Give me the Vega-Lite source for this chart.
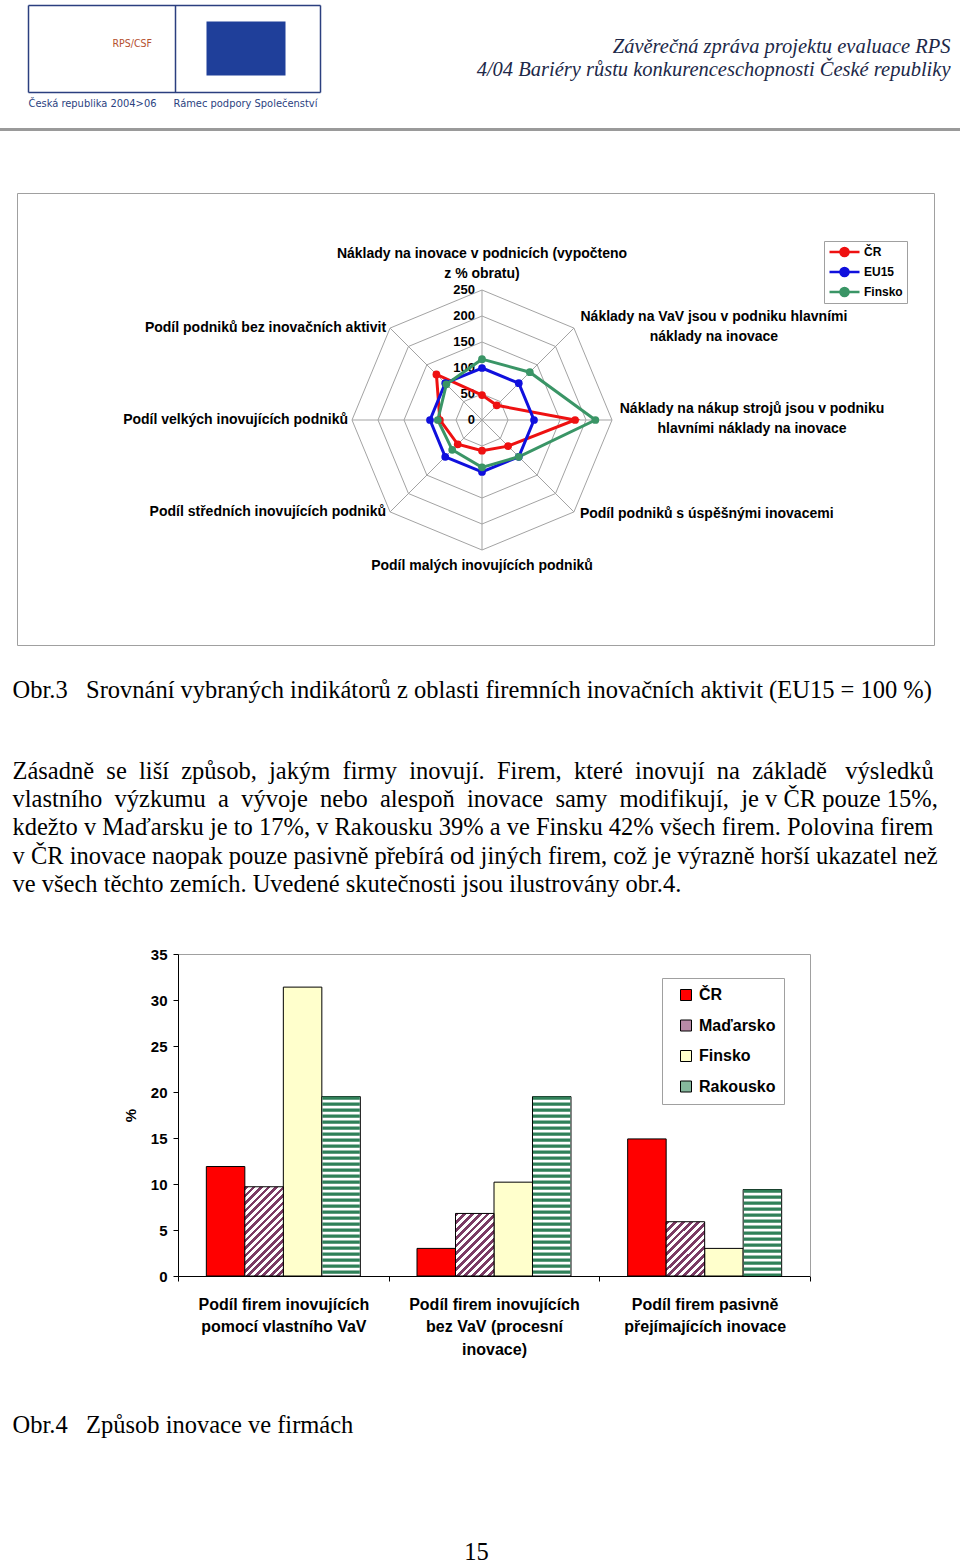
{
  "$schema": "https://vega.github.io/schema/vega-lite/v6.json",
  "padding": 0,
  "background": "white",
  "bounds": "flush",
  "spacing": 0,
  "config": {
    "view": {"stroke": null},
    "axis": {"titleLimit": 3000}
  },
  "datasets": {
    "axes": [
      {"k": 0, "label": "Náklady na inovace v podnicích (vypočteno\nz % obratu)"},
      {"k": 1, "label": "Náklady na VaV jsou v podniku hlavními\nnáklady na inovace"},
      {"k": 2, "label": "Náklady na nákup strojů jsou v podniku\nhlavními náklady na inovace"},
      {"k": 3, "label": "Podíl podniků s úspěšnými inovacemi"},
      {"k": 4, "label": "Podíl malých inovujících podniků"},
      {"k": 5, "label": "Podíl středních inovujících podniků"},
      {"k": 6, "label": "Podíl velkých inovujících podniků"},
      {"k": 7, "label": "Podíl podniků bez inovačních aktivit"}
    ],
    "rings": [
      {"level": 50, "k": [0, 1, 2, 3, 4, 5, 6, 7]},
      {"level": 100, "k": [0, 1, 2, 3, 4, 5, 6, 7]},
      {"level": 150, "k": [0, 1, 2, 3, 4, 5, 6, 7]},
      {"level": 200, "k": [0, 1, 2, 3, 4, 5, 6, 7]},
      {"level": 250, "k": [0, 1, 2, 3, 4, 5, 6, 7]}
    ],
    "levels": [{"level": 0}, {"level": 50}, {"level": 100}, {"level": 150}, {"level": 200}, {"level": 250}],
    "radar": [
      {"series": "ČR", "k": 0, "value": 48},
      {"series": "ČR", "k": 1, "value": 40},
      {"series": "ČR", "k": 2, "value": 179},
      {"series": "ČR", "k": 3, "value": 71},
      {"series": "ČR", "k": 4, "value": 59},
      {"series": "ČR", "k": 5, "value": 66},
      {"series": "ČR", "k": 6, "value": 81},
      {"series": "ČR", "k": 7, "value": 124},
      {"series": "EU15", "k": 0, "value": 100},
      {"series": "EU15", "k": 1, "value": 100},
      {"series": "EU15", "k": 2, "value": 100},
      {"series": "EU15", "k": 3, "value": 100},
      {"series": "EU15", "k": 4, "value": 100},
      {"series": "EU15", "k": 5, "value": 100},
      {"series": "EU15", "k": 6, "value": 100},
      {"series": "EU15", "k": 7, "value": 100},
      {"series": "Finsko", "k": 0, "value": 117},
      {"series": "Finsko", "k": 1, "value": 130},
      {"series": "Finsko", "k": 2, "value": 218},
      {"series": "Finsko", "k": 3, "value": 100},
      {"series": "Finsko", "k": 4, "value": 91},
      {"series": "Finsko", "k": 5, "value": 81},
      {"series": "Finsko", "k": 6, "value": 85},
      {"series": "Finsko", "k": 7, "value": 97}
    ],
    "bars": [
      {"g": 1, "group": "Podíl firem inovujících\npomocí vlastního VaV", "country": "ČR", "value": 11.9},
      {"g": 1, "group": "Podíl firem inovujících\npomocí vlastního VaV", "country": "Maďarsko", "value": 9.7},
      {"g": 1, "group": "Podíl firem inovujících\npomocí vlastního VaV", "country": "Finsko", "value": 31.4},
      {"g": 1, "group": "Podíl firem inovujících\npomocí vlastního VaV", "country": "Rakousko", "value": 19.5},
      {"g": 2, "group": "Podíl firem inovujících\nbez VaV (procesní\ninovace)", "country": "ČR", "value": 3.0},
      {"g": 2, "group": "Podíl firem inovujících\nbez VaV (procesní\ninovace)", "country": "Maďarsko", "value": 6.8},
      {"g": 2, "group": "Podíl firem inovujících\nbez VaV (procesní\ninovace)", "country": "Finsko", "value": 10.2},
      {"g": 2, "group": "Podíl firem inovujících\nbez VaV (procesní\ninovace)", "country": "Rakousko", "value": 19.5},
      {"g": 3, "group": "Podíl firem pasivně\npřejímajících inovace", "country": "ČR", "value": 14.9},
      {"g": 3, "group": "Podíl firem pasivně\npřejímajících inovace", "country": "Maďarsko", "value": 5.9},
      {"g": 3, "group": "Podíl firem pasivně\npřejímajících inovace", "country": "Finsko", "value": 3.0},
      {"g": 3, "group": "Podíl firem pasivně\npřejímajících inovace", "country": "Rakousko", "value": 9.4}
    ]
  },
  "vconcat": [
    {
      "width": 960,
      "height": 128,
      "resolve": {"scale": {"x": "independent", "y": "independent"}, "axis": {"x": "independent", "y": "independent"}},
      "layer": [
        {
          "data": {"values": []},
          "mark": "point",
          "encoding": {
            "x": {
              "field": "a", "type": "quantitative",
              "scale": {"domain": [28, 320], "range": [28, 320], "nice": false, "zero": false},
              "axis": {
                "orient": "top",
                "values": [28, 175, 320], "grid": true, "gridColor": "#2b3f7f", "gridWidth": 1.5,
                "domain": false, "ticks": false, "labels": false,
                "title": ["Závěrečná zpráva projektu evaluace RPS", "4/04 Bariéry růstu konkurenceschopnosti České republiky"],
                "titleX": 950, "titleY": 46, "titleAlign": "right", "titleBaseline": "middle", "titleAngle": 0,
                "titleLineHeight": 23, "titleFont": "Liberation Serif", "titleFontStyle": "italic", "titleFontWeight": "normal",
                "titleFontSize": 20.5, "titleColor": "#202848"
              }
            },
            "y": {
              "field": "b", "type": "quantitative",
              "scale": {"domain": [5, 92], "range": [5, 92], "nice": false, "zero": false},
              "axis": {
                "values": [5, 92], "grid": true, "gridColor": "#2b3f7f", "gridWidth": 1.5,
                "domain": false, "ticks": false, "labels": false,
                "title": "Česká republika 2004>06",
                "titleX": 28, "titleY": 103, "titleAlign": "left", "titleBaseline": "middle", "titleAngle": 0,
                "titleFont": "DejaVu Sans Condensed", "titleFontSize": 11, "titleFontWeight": "normal", "titleColor": "#2b3f7f"
              }
            }
          }
        },
        {
          "data": {"values": []},
          "mark": "point",
          "encoding": {
            "x": {
              "field": "a", "type": "quantitative",
              "scale": {"domain": [0, 1], "range": [206, 285], "nice": false, "zero": false},
              "axis": {
                "orient": "top", "offset": -48, "domain": true, "domainColor": "#1f3f9a", "domainWidth": 54, "domainCap": "butt",
                "ticks": false, "labels": false, "grid": false,
                "title": "RPS/CSF", "titleX": 112, "titleY": -5, "titleAlign": "left", "titleBaseline": "middle", "titleAngle": 0,
                "titleFont": "DejaVu Sans Condensed", "titleFontSize": 10.5, "titleFontWeight": "normal", "titleColor": "#b5502f"
              }
            },
            "y": {
              "field": "b", "type": "quantitative",
              "scale": {"domain": [0, 1], "nice": false, "zero": false},
              "axis": {
                "orient": "left", "domain": false, "ticks": false, "labels": false, "grid": false,
                "title": "Rámec podpory Společenství",
                "titleX": 173, "titleY": 103, "titleAlign": "left", "titleBaseline": "middle", "titleAngle": 0,
                "titleFont": "DejaVu Sans Condensed", "titleFontSize": 11, "titleFontWeight": "normal", "titleColor": "#2b3f7f"
              }
            }
          }
        }
      ]
    },
    {
      "width": 960,
      "height": 3,
      "data": {"values": []},
      "mark": "point",
      "encoding": {},
      "view": {"fill": "#9a9a9a", "stroke": null}
    },
    {
      "width": 960,
      "height": 823,
      "resolve": {"axis": {"x": "independent", "y": "independent"}},
      "layer": [
        {
          "data": {"name": "rings"},
          "transform": [
            {"flatten": ["k"]},
            {"calculate": "datum.level * sin(datum.k * PI / 4)", "as": "x"},
            {"calculate": "datum.level * cos(datum.k * PI / 4)", "as": "y"}
          ],
          "mark": {"type": "line", "interpolate": "linear-closed", "stroke": "#a3a3a3", "strokeWidth": 1},
          "encoding": {
            "x": {
              "field": "x", "type": "quantitative",
              "scale": {"domain": [-894.23, 869.23], "range": [17, 934], "nice": false, "zero": false},
              "axis": {
                "orient": "top",
                "values": [-894.23, 869.23], "grid": true, "gridColor": "#a0a0a0", "gridWidth": 1,
                "domain": false, "ticks": false, "labels": false,
                "title": "Obr.3\u00a0\u00a0 Srovnání vybraných indikátorů z oblasti firemních inovačních aktivit (EU15 = 100 %)",
                "titleX": 12, "titleY": 559, "titleAlign": "left", "titleBaseline": "middle", "titleAngle": 0,
                "titleFont": "Liberation Serif", "titleFontSize": 24.5, "titleFontWeight": "normal", "titleColor": "#000000"
              }
            },
            "y": {
              "field": "y", "type": "quantitative",
              "scale": {"domain": [-432.69, 436.54], "range": [514, 62], "nice": false, "zero": false},
              "axis": {
                "orient": "left",
                "values": [-432.69, 436.54], "grid": true, "gridColor": "#a0a0a0", "gridWidth": 1,
                "domain": false, "ticks": false, "labels": false,
                "title": [
                  "Zásadně\u00a0 se\u00a0 liší\u00a0 způsob,\u00a0 jakým\u00a0 firmy\u00a0 inovují.\u00a0 Firem,\u00a0 které\u00a0 inovují\u00a0 na\u00a0 základě\u00a0\u00a0 výsledků",
                  "vlastního\u00a0 výzkumu\u00a0 a\u00a0 vývoje\u00a0 nebo\u00a0 alespoň\u00a0 inovace\u00a0 samy\u00a0 modifikují,\u00a0 je v ČR pouze 15%,",
                  "kdežto v Maďarsku je to 17%, v Rakousku 39% a ve Finsku 42% všech firem. Polovina firem",
                  "v ČR inovace naopak pouze pasivně přebírá od jiných firem, což je výrazně horší ukazatel než",
                  "ve všech těchto zemích. Uvedené skutečnosti jsou ilustrovány obr.4."
                ],
                "titleX": 12, "titleY": 640, "titleAlign": "left", "titleBaseline": "middle", "titleAngle": 0,
                "titleLineHeight": 28.4, "titleFont": "Liberation Serif", "titleFontSize": 24.5, "titleFontWeight": "normal", "titleColor": "#000000"
              }
            },
            "detail": {"field": "level", "type": "nominal"},
            "order": {"field": "k", "type": "quantitative"}
          }
        },
        {
          "data": {"name": "axes"},
          "transform": [
            {"calculate": "250 * sin(datum.k * PI / 4)", "as": "ex"},
            {"calculate": "250 * cos(datum.k * PI / 4)", "as": "ey"}
          ],
          "mark": {"type": "rule", "stroke": "#a3a3a3", "strokeWidth": 1},
          "encoding": {
            "x": {"field": "ex", "type": "quantitative", "scale": {"domain": [-894.23, 869.23], "range": [17, 934], "nice": false, "zero": false}, "axis": null},
            "y": {"field": "ey", "type": "quantitative", "scale": {"domain": [-432.69, 436.54], "range": [514, 62], "nice": false, "zero": false}, "axis": null},
            "x2": {"datum": 0},
            "y2": {"datum": 0}
          }
        },
        {
          "data": {"name": "levels"},
          "transform": [{"calculate": "0", "as": "cx"}],
          "mark": {"type": "text", "align": "right", "baseline": "middle", "dx": -7, "font": "Liberation Sans", "fontSize": 13, "fontWeight": "bold", "color": "#000000"},
          "encoding": {
            "x": {"field": "cx", "type": "quantitative", "scale": {"domain": [-894.23, 869.23], "range": [17, 934], "nice": false, "zero": false}, "axis": null},
            "y": {"field": "level", "type": "quantitative", "scale": {"domain": [-432.69, 436.54], "range": [514, 62], "nice": false, "zero": false}, "axis": null},
            "text": {"field": "level", "type": "quantitative"}
          }
        },
        {
          "data": {"name": "radar"},
          "transform": [
            {"calculate": "datum.value * sin(datum.k * PI / 4)", "as": "x"},
            {"calculate": "datum.value * cos(datum.k * PI / 4)", "as": "y"}
          ],
          "mark": {"type": "line", "interpolate": "linear-closed", "strokeWidth": 3},
          "encoding": {
            "x": {"field": "x", "type": "quantitative", "scale": {"domain": [-894.23, 869.23], "range": [17, 934], "nice": false, "zero": false}, "axis": null},
            "y": {"field": "y", "type": "quantitative", "scale": {"domain": [-432.69, 436.54], "range": [514, 62], "nice": false, "zero": false}, "axis": null},
            "stroke": {
              "field": "series", "type": "nominal",
              "scale": {"domain": ["ČR", "EU15", "Finsko"], "range": ["#ee1111", "#1010dd", "#3a9566"]},
              "legend": {
                "orient": "none", "legendX": 824, "legendY": 241, "title": null, "direction": "vertical",
                "symbolType": "M-1,0L1,0M-0.27,0A0.27,0.27 0 1,0 0.27,0A0.27,0.27 0 1,0 -0.27,0",
                "symbolSize": 900, "symbolStrokeWidth": 2.5,
                "labelFont": "Liberation Sans", "labelFontSize": 12, "labelFontWeight": "bold", "labelColor": "#000000", "labelOffset": 3,
                "padding": 4, "rowPadding": 6, "clipHeight": 14, "strokeColor": "#a0a0a0", "fillColor": "#ffffff"
              }
            },
            "order": {"field": "k", "type": "quantitative"}
          }
        },
        {
          "data": {"name": "radar"},
          "transform": [
            {"calculate": "datum.value * sin(datum.k * PI / 4)", "as": "x"},
            {"calculate": "datum.value * cos(datum.k * PI / 4)", "as": "y"}
          ],
          "mark": {"type": "circle", "size": 60, "opacity": 1},
          "encoding": {
            "x": {"field": "x", "type": "quantitative", "scale": {"domain": [-894.23, 869.23], "range": [17, 934], "nice": false, "zero": false}, "axis": null},
            "y": {"field": "y", "type": "quantitative", "scale": {"domain": [-432.69, 436.54], "range": [514, 62], "nice": false, "zero": false}, "axis": null},
            "color": {
              "field": "series", "type": "nominal",
              "scale": {"domain": ["ČR", "EU15", "Finsko"], "range": ["#ee1111", "#1010dd", "#3a9566"]},
              "legend": {
                "orient": "none", "legendX": 824, "legendY": 241, "title": null, "direction": "vertical",
                "symbolType": "M-1,0L1,0M-0.27,0A0.27,0.27 0 1,0 0.27,0A0.27,0.27 0 1,0 -0.27,0",
                "symbolSize": 900, "symbolStrokeWidth": 2.5,
                "labelFont": "Liberation Sans", "labelFontSize": 12, "labelFontWeight": "bold", "labelColor": "#000000", "labelOffset": 3,
                "padding": 4, "rowPadding": 6, "clipHeight": 14, "strokeColor": "#a0a0a0", "fillColor": "#ffffff"
              }
            }
          }
        },
        {
          "data": {"name": "axes"},
          "transform": [
            {"filter": "datum.k === 0"},
            {"calculate": "250 * sin(datum.k * PI / 4)", "as": "lx"},
            {"calculate": "250 * cos(datum.k * PI / 4)", "as": "ly"}
          ],
          "mark": {"type": "text", "align": "center", "baseline": "middle", "dy": -36, "lineBreak": "\n", "lineHeight": 20, "font": "Liberation Sans", "fontSize": 14, "fontWeight": "bold", "color": "#000000"},
          "encoding": {
            "x": {"field": "lx", "type": "quantitative", "scale": {"domain": [-894.23, 869.23], "range": [17, 934], "nice": false, "zero": false}, "axis": null},
            "y": {"field": "ly", "type": "quantitative", "scale": {"domain": [-432.69, 436.54], "range": [514, 62], "nice": false, "zero": false}, "axis": null},
            "text": {"field": "label", "type": "nominal"}
          }
        },
        {
          "data": {"name": "axes"},
          "transform": [
            {"filter": "datum.k === 1 || datum.k === 2"},
            {"calculate": "250 * sin(datum.k * PI / 4)", "as": "lx"},
            {"calculate": "250 * cos(datum.k * PI / 4)", "as": "ly"}
          ],
          "mark": {"type": "text", "align": "center", "baseline": "middle", "dx": 140, "dy": -11, "lineBreak": "\n", "lineHeight": 20, "font": "Liberation Sans", "fontSize": 14, "fontWeight": "bold", "color": "#000000"},
          "encoding": {
            "x": {"field": "lx", "type": "quantitative", "scale": {"domain": [-894.23, 869.23], "range": [17, 934], "nice": false, "zero": false}, "axis": null},
            "y": {"field": "ly", "type": "quantitative", "scale": {"domain": [-432.69, 436.54], "range": [514, 62], "nice": false, "zero": false}, "axis": null},
            "text": {"field": "label", "type": "nominal"}
          }
        },
        {
          "data": {"name": "axes"},
          "transform": [
            {"filter": "datum.k === 3"},
            {"calculate": "250 * sin(datum.k * PI / 4)", "as": "lx"},
            {"calculate": "250 * cos(datum.k * PI / 4)", "as": "ly"}
          ],
          "mark": {"type": "text", "align": "left", "baseline": "middle", "dx": 6, "dy": 2, "font": "Liberation Sans", "fontSize": 14, "fontWeight": "bold", "color": "#000000"},
          "encoding": {
            "x": {"field": "lx", "type": "quantitative", "scale": {"domain": [-894.23, 869.23], "range": [17, 934], "nice": false, "zero": false}, "axis": null},
            "y": {"field": "ly", "type": "quantitative", "scale": {"domain": [-432.69, 436.54], "range": [514, 62], "nice": false, "zero": false}, "axis": null},
            "text": {"field": "label", "type": "nominal"}
          }
        },
        {
          "data": {"name": "axes"},
          "transform": [
            {"filter": "datum.k === 4"},
            {"calculate": "250 * sin(datum.k * PI / 4)", "as": "lx"},
            {"calculate": "250 * cos(datum.k * PI / 4)", "as": "ly"}
          ],
          "mark": {"type": "text", "align": "center", "baseline": "middle", "dy": 16, "font": "Liberation Sans", "fontSize": 14, "fontWeight": "bold", "color": "#000000"},
          "encoding": {
            "x": {"field": "lx", "type": "quantitative", "scale": {"domain": [-894.23, 869.23], "range": [17, 934], "nice": false, "zero": false}, "axis": null},
            "y": {"field": "ly", "type": "quantitative", "scale": {"domain": [-432.69, 436.54], "range": [514, 62], "nice": false, "zero": false}, "axis": null},
            "text": {"field": "label", "type": "nominal"}
          }
        },
        {
          "data": {"name": "axes"},
          "transform": [
            {"filter": "datum.k >= 5"},
            {"calculate": "250 * sin(datum.k * PI / 4)", "as": "lx"},
            {"calculate": "250 * cos(datum.k * PI / 4)", "as": "ly"}
          ],
          "mark": {"type": "text", "align": "right", "baseline": "middle", "dx": -4, "dy": 0, "font": "Liberation Sans", "fontSize": 14, "fontWeight": "bold", "color": "#000000"},
          "encoding": {
            "x": {"field": "lx", "type": "quantitative", "scale": {"domain": [-894.23, 869.23], "range": [17, 934], "nice": false, "zero": false}, "axis": null},
            "y": {"field": "ly", "type": "quantitative", "scale": {"domain": [-432.69, 436.54], "range": [514, 62], "nice": false, "zero": false}, "axis": null},
            "text": {"field": "label", "type": "nominal"}
          }
        }
      ]
    },
    {
      "width": 960,
      "height": 322,
      "data": {"name": "bars"},
      "resolve": {"axis": {"x": "independent", "y": "independent"}},
      "layer": [
        {
          "transform": [{"filter": "datum.country === 'ČR' || datum.country === 'Finsko'"}],
          "mark": {"type": "bar", "stroke": "#000000", "strokeWidth": 1},
          "encoding": {
            "x": {
              "field": "group", "type": "nominal",
              "scale": {"domain": ["Podíl firem inovujících\npomocí vlastního VaV", "Podíl firem inovujících\nbez VaV (procesní\ninovace)", "Podíl firem pasivně\npřejímajících inovace"], "range": [178, 810], "paddingInner": 0, "paddingOuter": 0},
              "axis": {
                "orient": "bottom", "domain": true, "domainColor": "#000000", "domainWidth": 1,
                "ticks": true, "tickColor": "#000000", "tickSize": 5, "tickBand": "extent",
                "labelAngle": 0, "labelAlign": "center", "labelFont": "Liberation Sans", "labelFontSize": 16, "labelFontWeight": "bold",
                "labelColor": "#000000", "labelLineHeight": 22.5, "labelPadding": 15, "labelLimit": 400,
                "labelExpr": "split(datum.label, '\\n')", "grid": false,
                "title": "Obr.4\u00a0\u00a0 Způsob inovace ve firmách",
                "titleX": 12, "titleY": 149, "titleAlign": "left", "titleBaseline": "middle", "titleAngle": 0,
                "titleFont": "Liberation Serif", "titleFontSize": 24.5, "titleFontWeight": "normal", "titleColor": "#000000"
              }
            },
            "xOffset": {"field": "country", "type": "nominal", "scale": {"domain": ["ČR", "Maďarsko", "Finsko", "Rakousko"], "paddingInner": 0, "paddingOuter": 0.736}},
            "y": {
              "field": "value", "type": "quantitative",
              "scale": {"domain": [0, 35], "nice": false},
              "axis": {
                "orient": "left", "offset": -178, "values": [0, 5, 10, 15, 20, 25, 30, 35],
                "domain": true, "domainColor": "#000000", "ticks": true, "tickColor": "#000000", "tickSize": 5,
                "labelFont": "Liberation Sans", "labelFontSize": 15, "labelFontWeight": "bold", "labelColor": "#000000", "labelPadding": 6,
                "grid": true, "gridColor": "#a0a0a0", "gridWidth": 1,
                "gridOpacity": {"condition": {"test": "datum.value === 35", "value": 1}, "value": 0},
                "title": "%", "titleFont": "Liberation Sans", "titleFontSize": 15, "titleFontWeight": "bold", "titleColor": "#000000", "titlePadding": 12
              }
            },
            "fill": {
              "field": "country", "type": "nominal",
              "scale": {"domain": ["ČR", "Maďarsko", "Finsko", "Rakousko"], "range": ["#ff0000", "#b98aa6", "#ffffcc", "#86b89d"]},
              "legend": {
                "orient": "none", "legendX": 662, "legendY": 978, "title": null, "direction": "vertical",
                "symbolType": "square", "symbolSize": 121, "symbolStrokeColor": "#000000", "symbolStrokeWidth": 1, "symbolOffset": 8,
                "labelFont": "Liberation Sans", "labelFontSize": 16, "labelFontWeight": "bold", "labelColor": "#000000", "labelOffset": 5,
                "padding": 8, "rowPadding": 12.5, "clipHeight": 18, "strokeColor": "#a0a0a0", "fillColor": "#ffffff"
              }
            }
          }
        },
        {
          "transform": [{"filter": "datum.country === 'Maďarsko' && datum.g === 1"}],
          "mark": {"type": "bar", "stroke": "#000000", "strokeWidth": 1, "fill": {"gradient": "linear", "x1": 0, "y1": 0, "x2": 0.5207, "y2": 1.2068, "stops": [
            {"offset": 0, "color": "#7b3b64"}, {"offset": 0.02941, "color": "#7b3b64"}, {"offset": 0.02941, "color": "#ffffff"}, {"offset": 0.05882, "color": "#ffffff"},
            {"offset": 0.05882, "color": "#7b3b64"}, {"offset": 0.08824, "color": "#7b3b64"}, {"offset": 0.08824, "color": "#ffffff"}, {"offset": 0.11765, "color": "#ffffff"},
            {"offset": 0.11765, "color": "#7b3b64"}, {"offset": 0.14706, "color": "#7b3b64"}, {"offset": 0.14706, "color": "#ffffff"}, {"offset": 0.17647, "color": "#ffffff"},
            {"offset": 0.17647, "color": "#7b3b64"}, {"offset": 0.20588, "color": "#7b3b64"}, {"offset": 0.20588, "color": "#ffffff"}, {"offset": 0.23529, "color": "#ffffff"},
            {"offset": 0.23529, "color": "#7b3b64"}, {"offset": 0.26471, "color": "#7b3b64"}, {"offset": 0.26471, "color": "#ffffff"}, {"offset": 0.29412, "color": "#ffffff"},
            {"offset": 0.29412, "color": "#7b3b64"}, {"offset": 0.32353, "color": "#7b3b64"}, {"offset": 0.32353, "color": "#ffffff"}, {"offset": 0.35294, "color": "#ffffff"},
            {"offset": 0.35294, "color": "#7b3b64"}, {"offset": 0.38235, "color": "#7b3b64"}, {"offset": 0.38235, "color": "#ffffff"}, {"offset": 0.41176, "color": "#ffffff"},
            {"offset": 0.41176, "color": "#7b3b64"}, {"offset": 0.44118, "color": "#7b3b64"}, {"offset": 0.44118, "color": "#ffffff"}, {"offset": 0.47059, "color": "#ffffff"},
            {"offset": 0.47059, "color": "#7b3b64"}, {"offset": 0.5, "color": "#7b3b64"}, {"offset": 0.5, "color": "#ffffff"}, {"offset": 0.52941, "color": "#ffffff"},
            {"offset": 0.52941, "color": "#7b3b64"}, {"offset": 0.55882, "color": "#7b3b64"}, {"offset": 0.55882, "color": "#ffffff"}, {"offset": 0.58824, "color": "#ffffff"},
            {"offset": 0.58824, "color": "#7b3b64"}, {"offset": 0.61765, "color": "#7b3b64"}, {"offset": 0.61765, "color": "#ffffff"}, {"offset": 0.64706, "color": "#ffffff"},
            {"offset": 0.64706, "color": "#7b3b64"}, {"offset": 0.67647, "color": "#7b3b64"}, {"offset": 0.67647, "color": "#ffffff"}, {"offset": 0.70588, "color": "#ffffff"},
            {"offset": 0.70588, "color": "#7b3b64"}, {"offset": 0.73529, "color": "#7b3b64"}, {"offset": 0.73529, "color": "#ffffff"}, {"offset": 0.76471, "color": "#ffffff"},
            {"offset": 0.76471, "color": "#7b3b64"}, {"offset": 0.79412, "color": "#7b3b64"}, {"offset": 0.79412, "color": "#ffffff"}, {"offset": 0.82353, "color": "#ffffff"},
            {"offset": 0.82353, "color": "#7b3b64"}, {"offset": 0.85294, "color": "#7b3b64"}, {"offset": 0.85294, "color": "#ffffff"}, {"offset": 0.88235, "color": "#ffffff"},
            {"offset": 0.88235, "color": "#7b3b64"}, {"offset": 0.91176, "color": "#7b3b64"}, {"offset": 0.91176, "color": "#ffffff"}, {"offset": 0.94118, "color": "#ffffff"},
            {"offset": 0.94118, "color": "#7b3b64"}, {"offset": 0.97059, "color": "#7b3b64"}, {"offset": 0.97059, "color": "#ffffff"}, {"offset": 1, "color": "#ffffff"}]}},
          "encoding": {
            "x": {"field": "group", "type": "nominal", "scale": {"domain": ["Podíl firem inovujících\npomocí vlastního VaV", "Podíl firem inovujících\nbez VaV (procesní\ninovace)", "Podíl firem pasivně\npřejímajících inovace"], "range": [178, 810], "paddingInner": 0, "paddingOuter": 0}, "axis": null},
            "xOffset": {"field": "country", "type": "nominal", "scale": {"domain": ["ČR", "Maďarsko", "Finsko", "Rakousko"], "paddingInner": 0, "paddingOuter": 0.736}},
            "y": {
              "field": "value", "type": "quantitative", "scale": {"domain": [0, 35], "nice": false},
              "axis": {
                "orient": "right", "offset": -150, "values": [35], "domain": true, "domainColor": "#a0a0a0", "domainWidth": 1,
                "ticks": false, "labels": false, "grid": false,
                "title": "15", "titleX": -334, "titleY": 598, "titleAngle": 0, "titleAlign": "center", "titleBaseline": "middle",
                "titleFont": "Liberation Serif", "titleFontSize": 24.5, "titleFontWeight": "normal", "titleColor": "#000000"
              }
            }
          }
        },
        {
          "transform": [{"filter": "datum.country === 'Maďarsko' && datum.g === 2"}],
          "mark": {"type": "bar", "stroke": "#000000", "strokeWidth": 1, "fill": {"gradient": "linear", "x1": 0, "y1": 0, "x2": 0.7211, "y2": 1.1717, "stops": [
            {"offset": 0, "color": "#7b3b64"}, {"offset": 0.03846, "color": "#7b3b64"}, {"offset": 0.03846, "color": "#ffffff"}, {"offset": 0.07692, "color": "#ffffff"},
            {"offset": 0.07692, "color": "#7b3b64"}, {"offset": 0.11538, "color": "#7b3b64"}, {"offset": 0.11538, "color": "#ffffff"}, {"offset": 0.15385, "color": "#ffffff"},
            {"offset": 0.15385, "color": "#7b3b64"}, {"offset": 0.19231, "color": "#7b3b64"}, {"offset": 0.19231, "color": "#ffffff"}, {"offset": 0.23077, "color": "#ffffff"},
            {"offset": 0.23077, "color": "#7b3b64"}, {"offset": 0.26923, "color": "#7b3b64"}, {"offset": 0.26923, "color": "#ffffff"}, {"offset": 0.30769, "color": "#ffffff"},
            {"offset": 0.30769, "color": "#7b3b64"}, {"offset": 0.34615, "color": "#7b3b64"}, {"offset": 0.34615, "color": "#ffffff"}, {"offset": 0.38462, "color": "#ffffff"},
            {"offset": 0.38462, "color": "#7b3b64"}, {"offset": 0.42308, "color": "#7b3b64"}, {"offset": 0.42308, "color": "#ffffff"}, {"offset": 0.46154, "color": "#ffffff"},
            {"offset": 0.46154, "color": "#7b3b64"}, {"offset": 0.5, "color": "#7b3b64"}, {"offset": 0.5, "color": "#ffffff"}, {"offset": 0.53846, "color": "#ffffff"},
            {"offset": 0.53846, "color": "#7b3b64"}, {"offset": 0.57692, "color": "#7b3b64"}, {"offset": 0.57692, "color": "#ffffff"}, {"offset": 0.61538, "color": "#ffffff"},
            {"offset": 0.61538, "color": "#7b3b64"}, {"offset": 0.65385, "color": "#7b3b64"}, {"offset": 0.65385, "color": "#ffffff"}, {"offset": 0.69231, "color": "#ffffff"},
            {"offset": 0.69231, "color": "#7b3b64"}, {"offset": 0.73077, "color": "#7b3b64"}, {"offset": 0.73077, "color": "#ffffff"}, {"offset": 0.76923, "color": "#ffffff"},
            {"offset": 0.76923, "color": "#7b3b64"}, {"offset": 0.80769, "color": "#7b3b64"}, {"offset": 0.80769, "color": "#ffffff"}, {"offset": 0.84615, "color": "#ffffff"},
            {"offset": 0.84615, "color": "#7b3b64"}, {"offset": 0.88462, "color": "#7b3b64"}, {"offset": 0.88462, "color": "#ffffff"}, {"offset": 0.92308, "color": "#ffffff"},
            {"offset": 0.92308, "color": "#7b3b64"}, {"offset": 0.96154, "color": "#7b3b64"}, {"offset": 0.96154, "color": "#ffffff"}, {"offset": 1, "color": "#ffffff"}]}},
          "encoding": {
            "x": {"field": "group", "type": "nominal", "scale": {"domain": ["Podíl firem inovujících\npomocí vlastního VaV", "Podíl firem inovujících\nbez VaV (procesní\ninovace)", "Podíl firem pasivně\npřejímajících inovace"], "range": [178, 810], "paddingInner": 0, "paddingOuter": 0}, "axis": null},
            "xOffset": {"field": "country", "type": "nominal", "scale": {"domain": ["ČR", "Maďarsko", "Finsko", "Rakousko"], "paddingInner": 0, "paddingOuter": 0.736}},
            "y": {"field": "value", "type": "quantitative", "scale": {"domain": [0, 35], "nice": false}, "axis": null}
          }
        },
        {
          "transform": [{"filter": "datum.country === 'Maďarsko' && datum.g === 3"}],
          "mark": {"type": "bar", "stroke": "#000000", "strokeWidth": 1, "fill": {"gradient": "linear", "x1": 0, "y1": 0, "x2": 0.8015, "y2": 1.1396, "stops": [
            {"offset": 0, "color": "#7b3b64"}, {"offset": 0.04167, "color": "#7b3b64"}, {"offset": 0.04167, "color": "#ffffff"}, {"offset": 0.08333, "color": "#ffffff"},
            {"offset": 0.08333, "color": "#7b3b64"}, {"offset": 0.125, "color": "#7b3b64"}, {"offset": 0.125, "color": "#ffffff"}, {"offset": 0.16667, "color": "#ffffff"},
            {"offset": 0.16667, "color": "#7b3b64"}, {"offset": 0.20833, "color": "#7b3b64"}, {"offset": 0.20833, "color": "#ffffff"}, {"offset": 0.25, "color": "#ffffff"},
            {"offset": 0.25, "color": "#7b3b64"}, {"offset": 0.29167, "color": "#7b3b64"}, {"offset": 0.29167, "color": "#ffffff"}, {"offset": 0.33333, "color": "#ffffff"},
            {"offset": 0.33333, "color": "#7b3b64"}, {"offset": 0.375, "color": "#7b3b64"}, {"offset": 0.375, "color": "#ffffff"}, {"offset": 0.41667, "color": "#ffffff"},
            {"offset": 0.41667, "color": "#7b3b64"}, {"offset": 0.45833, "color": "#7b3b64"}, {"offset": 0.45833, "color": "#ffffff"}, {"offset": 0.5, "color": "#ffffff"},
            {"offset": 0.5, "color": "#7b3b64"}, {"offset": 0.54167, "color": "#7b3b64"}, {"offset": 0.54167, "color": "#ffffff"}, {"offset": 0.58333, "color": "#ffffff"},
            {"offset": 0.58333, "color": "#7b3b64"}, {"offset": 0.625, "color": "#7b3b64"}, {"offset": 0.625, "color": "#ffffff"}, {"offset": 0.66667, "color": "#ffffff"},
            {"offset": 0.66667, "color": "#7b3b64"}, {"offset": 0.70833, "color": "#7b3b64"}, {"offset": 0.70833, "color": "#ffffff"}, {"offset": 0.75, "color": "#ffffff"},
            {"offset": 0.75, "color": "#7b3b64"}, {"offset": 0.79167, "color": "#7b3b64"}, {"offset": 0.79167, "color": "#ffffff"}, {"offset": 0.83333, "color": "#ffffff"},
            {"offset": 0.83333, "color": "#7b3b64"}, {"offset": 0.875, "color": "#7b3b64"}, {"offset": 0.875, "color": "#ffffff"}, {"offset": 0.91667, "color": "#ffffff"},
            {"offset": 0.91667, "color": "#7b3b64"}, {"offset": 0.95833, "color": "#7b3b64"}, {"offset": 0.95833, "color": "#ffffff"}, {"offset": 1, "color": "#ffffff"}]}},
          "encoding": {
            "x": {"field": "group", "type": "nominal", "scale": {"domain": ["Podíl firem inovujících\npomocí vlastního VaV", "Podíl firem inovujících\nbez VaV (procesní\ninovace)", "Podíl firem pasivně\npřejímajících inovace"], "range": [178, 810], "paddingInner": 0, "paddingOuter": 0}, "axis": null},
            "xOffset": {"field": "country", "type": "nominal", "scale": {"domain": ["ČR", "Maďarsko", "Finsko", "Rakousko"], "paddingInner": 0, "paddingOuter": 0.736}},
            "y": {"field": "value", "type": "quantitative", "scale": {"domain": [0, 35], "nice": false}, "axis": null}
          }
        },
        {
          "transform": [{"filter": "datum.country === 'Rakousko'"}],
          "mark": {"type": "bar", "stroke": "#000000", "strokeWidth": 1, "fill": "#ffffff"},
          "encoding": {
            "x": {"field": "group", "type": "nominal", "scale": {"domain": ["Podíl firem inovujících\npomocí vlastního VaV", "Podíl firem inovujících\nbez VaV (procesní\ninovace)", "Podíl firem pasivně\npřejímajících inovace"], "range": [178, 810], "paddingInner": 0, "paddingOuter": 0}, "axis": null},
            "xOffset": {"field": "country", "type": "nominal", "scale": {"domain": ["ČR", "Maďarsko", "Finsko", "Rakousko"], "paddingInner": 0, "paddingOuter": 0.736}},
            "y": {"field": "value", "type": "quantitative", "scale": {"domain": [0, 35], "nice": false}, "axis": null}
          }
        },
        {
          "transform": [{"filter": "datum.country === 'Rakousko'"}],
          "mark": {"type": "rule", "stroke": "#2f8058", "strokeWidth": 37.5, "strokeDash": [3.2, 2.8], "strokeCap": "butt"},
          "encoding": {
            "x": {"field": "group", "type": "nominal", "scale": {"domain": ["Podíl firem inovujících\npomocí vlastního VaV", "Podíl firem inovujících\nbez VaV (procesní\ninovace)", "Podíl firem pasivně\npřejímajících inovace"], "range": [178, 810], "paddingInner": 0, "paddingOuter": 0}, "axis": null},
            "xOffset": {"field": "country", "type": "nominal", "scale": {"domain": ["ČR", "Maďarsko", "Finsko", "Rakousko"], "paddingInner": 0, "paddingOuter": 0.736}},
            "y": {"field": "value", "type": "quantitative", "scale": {"domain": [0, 35], "nice": false}, "axis": null},
            "y2": {"datum": 0}
          }
        }
      ]
    }
  ]
}
